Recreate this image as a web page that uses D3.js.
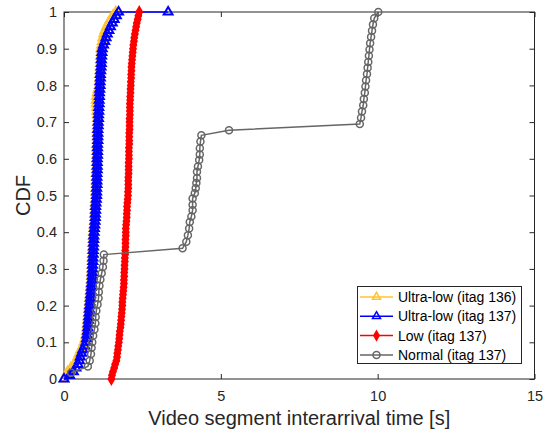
<!DOCTYPE html>
<html>
<head>
<meta charset="utf-8">
<script src="https://cdn.jsdelivr.net/npm/d3@7"></script>
<style>
  body { margin: 0; background: #fff; }
  text { font-family: "Liberation Sans", Arial, Helvetica, sans-serif; }
</style>
</head>
<body>
<div id="chart"></div>
<script>
// CDF levels shared by the three dense series (0 .. 1 in 0.01 steps)
const cdfLevels = [0.00, 0.01, 0.02, 0.03, 0.04, 0.05, 0.06, 0.07, 0.08, 0.09,
  0.10, 0.11, 0.12, 0.13, 0.14, 0.15, 0.16, 0.17, 0.18, 0.19,
  0.20, 0.21, 0.22, 0.23, 0.24, 0.25, 0.26, 0.27, 0.28, 0.29,
  0.30, 0.31, 0.32, 0.33, 0.34, 0.35, 0.36, 0.37, 0.38, 0.39,
  0.40, 0.41, 0.42, 0.43, 0.44, 0.45, 0.46, 0.47, 0.48, 0.49,
  0.50, 0.51, 0.52, 0.53, 0.54, 0.55, 0.56, 0.57, 0.58, 0.59,
  0.60, 0.61, 0.62, 0.63, 0.64, 0.65, 0.66, 0.67, 0.68, 0.69,
  0.70, 0.71, 0.72, 0.73, 0.74, 0.75, 0.76, 0.77, 0.78, 0.79,
  0.80, 0.81, 0.82, 0.83, 0.84, 0.85, 0.86, 0.87, 0.88, 0.89,
  0.90, 0.91, 0.92, 0.93, 0.94, 0.95, 0.96, 0.97, 0.98, 0.99, 1.00];

// interarrival time [s] at each cdf level
const ultraLow136 = [0.00, 0.06, 0.12, 0.22, 0.33, 0.39, 0.44, 0.49, 0.54, 0.60,
  0.64, 0.68, 0.70, 0.72, 0.73, 0.74, 0.76, 0.77, 0.78, 0.79,
  0.80, 0.81, 0.82, 0.83, 0.84, 0.85, 0.86, 0.87, 0.88, 0.88,
  0.89, 0.89, 0.90, 0.90, 0.91, 0.91, 0.92, 0.92, 0.93, 0.93,
  0.94, 0.95, 0.96, 0.97, 0.98, 0.98, 0.99, 0.99, 1.00, 1.01,
  1.02, 1.02, 1.02, 1.03, 1.03, 1.03, 1.03, 1.04, 1.04, 1.04,
  1.04, 1.05, 1.05, 1.05, 1.05, 1.06, 1.06, 1.06, 1.06, 1.07,
  1.07, 1.07, 1.06, 1.05, 1.04, 1.03, 1.03, 1.04, 1.06, 1.09,
  1.12, 1.13, 1.14, 1.14, 1.15, 1.16, 1.16, 1.17, 1.17, 1.18,
  1.18, 1.20, 1.22, 1.24, 1.27, 1.31, 1.36, 1.42, 1.48, 1.56, 1.65];
const ultraLow137 = [0.00, 0.18, 0.30, 0.38, 0.45, 0.49, 0.52, 0.56, 0.60, 0.66,
  0.70, 0.72, 0.73, 0.75, 0.76, 0.77, 0.78, 0.79, 0.80, 0.81,
  0.82, 0.83, 0.84, 0.85, 0.86, 0.87, 0.88, 0.89, 0.90, 0.90,
  0.91, 0.91, 0.92, 0.92, 0.93, 0.93, 0.94, 0.94, 0.95, 0.95,
  0.96, 0.97, 0.98, 0.99, 1.00, 1.00, 1.01, 1.01, 1.02, 1.03,
  1.04, 1.04, 1.04, 1.05, 1.05, 1.05, 1.05, 1.06, 1.06, 1.06,
  1.06, 1.07, 1.07, 1.07, 1.07, 1.08, 1.08, 1.08, 1.08, 1.09,
  1.09, 1.10, 1.10, 1.11, 1.11, 1.12, 1.12, 1.13, 1.13, 1.14,
  1.15, 1.15, 1.16, 1.16, 1.17, 1.18, 1.19, 1.19, 1.20, 1.21,
  1.22, 1.26, 1.30, 1.34, 1.38, 1.43, 1.48, 1.54, 1.60, 1.67, 1.74];
const ultraLow137TailX = [3.32];
const ultraLow137TailY = [1.0];
const low137 = [1.51, 1.53, 1.56, 1.60, 1.63, 1.67, 1.69, 1.70, 1.72, 1.73,
  1.75, 1.76, 1.77, 1.78, 1.80, 1.81, 1.82, 1.83, 1.84, 1.85,
  1.86, 1.86, 1.87, 1.88, 1.89, 1.90, 1.91, 1.91, 1.92, 1.92,
  1.93, 1.93, 1.94, 1.94, 1.95, 1.95, 1.96, 1.96, 1.96, 1.97,
  1.97, 1.97, 1.98, 1.99, 2.00, 2.00, 2.01, 2.01, 2.02, 2.03,
  2.04, 2.04, 2.05, 2.05, 2.05, 2.05, 2.06, 2.06, 2.06, 2.06,
  2.07, 2.07, 2.07, 2.07, 2.08, 2.08, 2.08, 2.08, 2.09, 2.09,
  2.09, 2.09, 2.10, 2.10, 2.10, 2.10, 2.11, 2.11, 2.12, 2.12,
  2.13, 2.13, 2.14, 2.14, 2.15, 2.15, 2.16, 2.17, 2.18, 2.19,
  2.20, 2.21, 2.23, 2.24, 2.26, 2.28, 2.30, 2.32, 2.35, 2.37, 2.40];

// Normal (itag 137): fewer samples, own x/y pairs
const normalX = [0.23, 0.76, 0.82, 0.86, 0.88, 0.90, 0.93, 0.97, 1.00, 1.01,
  1.03, 1.07, 1.10, 1.11, 1.13, 1.16, 1.20, 1.24, 1.26, 1.27,
  3.78, 3.90, 3.95, 3.99, 4.01, 4.06, 4.10, 4.10, 4.10, 4.17,
  4.20, 4.22, 4.24, 4.24, 4.27, 4.31, 4.33, 4.33, 4.35, 4.38,
  5.26,
  9.43, 9.47, 9.50, 9.54, 9.56, 9.59, 9.61, 9.63, 9.66, 9.68,
  9.70, 9.72, 9.74, 9.76, 9.79, 9.82, 9.85, 9.89, 10.02];
const normalY = [0.017, 0.034, 0.050, 0.068, 0.085, 0.100, 0.118, 0.135, 0.152, 0.169,
  0.186, 0.203, 0.220, 0.237, 0.254, 0.271, 0.288, 0.305, 0.322, 0.339,
  0.356, 0.374, 0.392, 0.410, 0.428, 0.443, 0.460, 0.475, 0.492, 0.506,
  0.520, 0.534, 0.548, 0.565, 0.579, 0.597, 0.612, 0.629, 0.647, 0.664,
  0.678,
  0.695, 0.712, 0.729, 0.746, 0.763, 0.780, 0.797, 0.814, 0.831, 0.848,
  0.864, 0.881, 0.898, 0.915, 0.932, 0.949, 0.966, 0.983, 1.0];

const xTicks = [0, 5, 10, 15];
const yTicks = [0, 0.1, 0.2, 0.3, 0.4, 0.5, 0.6, 0.7, 0.8, 0.9, 1];
const legendLabels = ['Ultra-low (itag 136)', 'Ultra-low (itag 137)', 'Low (itag 137)', 'Normal (itag 137)'];
const seriesColors = ['#FFC52E', '#0000FF', '#FF0000', '#666666'];

const width = 551, height = 435;
const axisColor = '#262626';

const svg = d3.select('#chart').append('svg')
  .attr('width', width)
  .attr('height', height);

const x = d3.scaleLinear().domain([0, 15]).range([64, 534.5]);
const y = d3.scaleLinear().domain([0, 1]).range([379, 12]);

// axes with inward ticks
const gx = svg.append('g').attr('transform', `translate(0,${y(0)})`)
  .call(d3.axisBottom(x).tickValues(xTicks).tickSize(-5).tickPadding(12).tickFormat(d3.format('d')));
const gy = svg.append('g').attr('transform', `translate(${x(0)},0)`)
  .call(d3.axisLeft(y).tickValues(yTicks).tickSize(-5).tickPadding(7).tickFormat(d => d === 0 || d === 1 ? String(d) : d3.format('.1f')(d)));
const gxTop = svg.append('g').attr('transform', `translate(0,${y(1)})`)
  .call(d3.axisTop(x).tickValues(xTicks).tickSize(-5).tickFormat(''));
const gyRight = svg.append('g').attr('transform', `translate(${x(15)},0)`)
  .call(d3.axisRight(y).tickValues(yTicks).tickSize(-5).tickFormat(''));

[gx, gy, gxTop, gyRight].forEach(g => {
  g.select('.domain').remove();
  g.selectAll('line').attr('stroke', axisColor);
  g.selectAll('text').attr('fill', axisColor).style('font-size', '14.5px')
    .style('font-family', '"Liberation Sans", Arial, sans-serif');
});

// box
svg.append('rect')
  .attr('x', x(0)).attr('y', y(1))
  .attr('width', x(15) - x(0)).attr('height', y(0) - y(1))
  .attr('fill', 'none').attr('stroke', axisColor).attr('stroke-width', 1);

// axis titles
svg.append('text')
  .attr('x', (x(0) + x(15)) / 2).attr('y', 425)
  .attr('text-anchor', 'middle')
  .attr('fill', axisColor)
  .style('font-size', '20px')
  .text('Video segment interarrival time [s]');
svg.append('text')
  .attr('transform', `translate(30,${(y(0) + y(1)) / 2}) rotate(-90)`)
  .attr('text-anchor', 'middle')
  .attr('fill', axisColor)
  .style('font-size', '20px')
  .text('CDF');

const line = d3.line().x(d => x(d[0])).y(d => y(d[1]));
const tri = d3.symbol().type(d3.symbolTriangle).size(34);
const dia = d3.symbol().type(d3.symbolDiamond).size(34);

function drawSeries(points, color, marker) {
  const g = svg.append('g');
  g.append('path').datum(points)
    .attr('d', line)
    .attr('fill', 'none')
    .attr('stroke', color)
    .attr('stroke-width', 1.5);
  if (marker === 'circle') {
    g.selectAll('circle').data(points).enter().append('circle')
      .attr('cx', d => x(d[0])).attr('cy', d => y(d[1]))
      .attr('r', 3.5)
      .attr('fill', 'none').attr('stroke', color).attr('stroke-width', 1.5);
  } else {
    g.selectAll('path.m').data(points).enter().append('path')
      .attr('class', 'm')
      .attr('transform', d => `translate(${x(d[0])},${y(d[1])})`)
      .attr('d', marker === 'triangle' ? tri : dia)
      .attr('fill', marker === 'triangle' ? 'none' : color)
      .attr('stroke', color).attr('stroke-width', marker === 'triangle' ? 2 : 1.5);
  }
}

const s136 = ultraLow136.map((v, i) => [v, cdfLevels[i]]);
const s137 = ultraLow137.map((v, i) => [v, cdfLevels[i]])
  .concat(ultraLow137TailX.map((v, i) => [v, ultraLow137TailY[i]]));
const sLow = low137.map((v, i) => [v, cdfLevels[i]]);
const sNormal = normalX.map((v, i) => [v, normalY[i]]);

drawSeries(s136, seriesColors[0], 'triangle');
drawSeries(s137, seriesColors[1], 'triangle');
drawSeries(sLow, seriesColors[2], 'diamond');
drawSeries(sNormal, seriesColors[3], 'circle');

// legend
const lg = svg.append('g');
lg.append('rect')
  .attr('x', 357.5).attr('y', 286.5).attr('width', 164).attr('height', 77)
  .attr('fill', '#fff').attr('stroke', axisColor).attr('stroke-width', 1);
const markers = ['triangle', 'triangle', 'diamond', 'circle'];
const legendTri = d3.symbol().type(d3.symbolTriangle).size(28);
const legendDia = d3.symbol().type(d3.symbolDiamond).size(24);
legendLabels.forEach((lab, i) => {
  const cy = 297 + i * 19.3;
  lg.append('line')
    .attr('x1', 360).attr('x2', 393).attr('y1', cy).attr('y2', cy)
    .attr('stroke', seriesColors[i]).attr('stroke-width', 1.5);
  if (markers[i] === 'circle') {
    lg.append('circle').attr('cx', 376.5).attr('cy', cy).attr('r', 3.5)
      .attr('fill', 'none').attr('stroke', seriesColors[i]).attr('stroke-width', 1.5);
  } else {
    lg.append('path')
      .attr('transform', `translate(376.5,${cy})`)
      .attr('d', markers[i] === 'triangle' ? legendTri : legendDia)
      .attr('fill', markers[i] === 'triangle' ? 'none' : seriesColors[i])
      .attr('stroke', seriesColors[i]).attr('stroke-width', 1.5);
  }
  lg.append('text')
    .attr('x', 398).attr('y', cy + 5)
    .attr('fill', '#000')
    .style('font-size', '14px')
    .text(lab);
});
</script>
</body>
</html>
